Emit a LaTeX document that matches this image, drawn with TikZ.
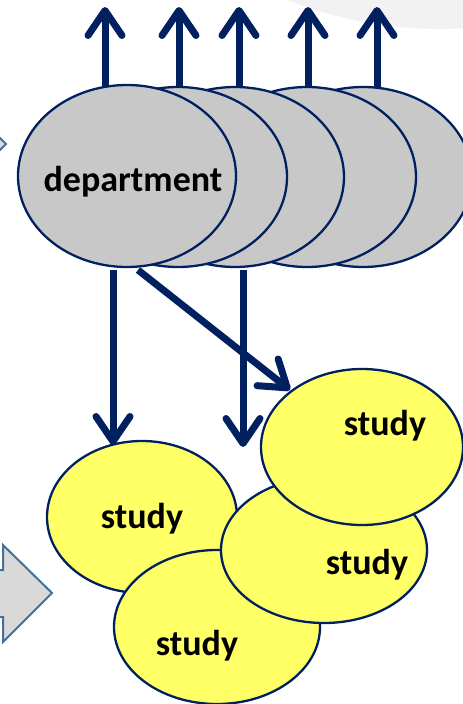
\documentclass[tikz,border=0pt]{standalone}
\usepackage{fontspec}
\setmainfont{Carlito}
\usetikzlibrary{shapes.geometric,arrows.meta}
\definecolor{navy}{HTML}{002060}
\definecolor{deptgray}{HTML}{C8C8C8}
\definecolor{studyyellow}{HTML}{FFFF66}
\definecolor{blockfill}{HTML}{D9D9D9}
\definecolor{blockline}{HTML}{41719C}
\definecolor{bgcircle}{HTML}{F2F2F2}
\tikzset{
  ell/.style={ellipse, draw=navy, line width=2.3pt, inner sep=0pt},
  dept/.style={ell, fill=deptgray, minimum width=218pt, minimum height=182pt},
  stud/.style={ell, fill=studyyellow},
  lbl/.style={anchor=base, inner sep=0pt, font=\bfseries\fontsize{36}{42}\selectfont},
  arr/.style={draw=navy, line width=7pt, -{Straight Barb[length=25pt,width=34pt,round]}},
  blockarrow/.style={fill=blockfill, draw=blockline, line width=2pt, line join=miter},
}
\begin{document}
\begin{tikzpicture}[x=1pt,y=-1pt]
\useasboundingbox (0,0) rectangle (463,704);
\clip (0,0) rectangle (463,704);
% background decorations
\fill[bgcircle] (440,-384) circle (413);
\draw[blockarrow] (-70,121) -- (-43,121) -- (-43,96) -- (6,144) -- (-43,192) -- (-43,167) -- (-70,167) -- cycle;
\draw[blockarrow] (-30,570) -- (3,570) -- (3,545) -- (52,593) -- (3,642) -- (3,617) -- (-30,617) -- cycle;
% up arrows (drawn under the ellipses)
\coordinate (u1s) at (105,92); \coordinate (u1e) at (105,7);
\coordinate (u2s) at (179,95); \coordinate (u2e) at (179,7);
\coordinate (u3s) at (239,95); \coordinate (u3e) at (239,7);
\coordinate (u4s) at (308,95); \coordinate (u4e) at (308,7);
\coordinate (u5s) at (377,95); \coordinate (u5e) at (377,7);
\foreach \i in {1,...,5} {\draw[arr] (u\i s) -- (u\i e);}
% department stack
\node[dept, minimum height=180pt] (E5) at (363,177) {};
\node[dept, minimum height=180pt] (E4) at (307,177) {};
\node[dept, minimum height=180pt] (E3) at (235,177) {};
\node[dept, minimum height=180pt] (E2) at (178,177) {};
\node[dept] (E1) at (127,176) {};
\node[lbl] (tdept) at (133,191) {department};
% study ellipses
\node[stud, minimum width=190pt, minimum height=152pt] (SA) at (142,517) {};
\node[stud, minimum width=206pt, minimum height=154pt] (SB) at (217,627) {};
\node[stud, minimum width=206pt, minimum height=146pt] (SC) at (324,550) {};
\node[stud, minimum width=202pt, minimum height=156pt] (SD) at (362,447) {};
\node[lbl] (tA) at (142,528) {study};
\node[lbl] (tB) at (197,655) {study};
\node[lbl] (tC) at (367,574) {study};
\node[lbl] (tD) at (385,435) {study};
% down arrows
\coordinate (d1s) at (113,270); \coordinate (d1e) at (113,445);
\coordinate (d2s) at (243,270); \coordinate (d2e) at (243,447);
\coordinate (d3s) at (138,270); \coordinate (d3e) at (290,390);
\draw[arr] (d1s) -- (d1e);
\draw[arr] (d2s) -- (d2e);
\draw[arr] (d3s) -- (d3e);
\end{tikzpicture}
\end{document}
